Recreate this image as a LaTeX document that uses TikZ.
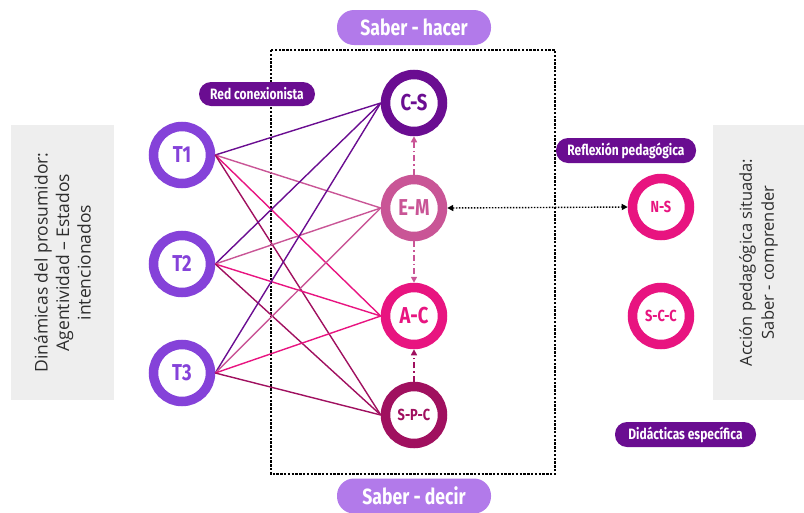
\documentclass[tikz,border=0pt]{standalone}
\usepackage{fontspec}
\setmainfont{Open Sans}
\newfontfamily\labelfont[FakeStretch=0.8]{Fira Sans}
\usepackage{xcolor}
\usetikzlibrary{arrows.meta}

\definecolor{tviolet}{RGB}{133,66,217}
\definecolor{cspurple}{RGB}{106,13,145}
\definecolor{empink}{RGB}{201,85,150}
\definecolor{acmagenta}{RGB}{232,20,128}
\definecolor{spcwine}{RGB}{160,16,95}
\definecolor{pilllight}{RGB}{178,122,234}
\definecolor{boxgray}{RGB}{238,238,238}
\definecolor{boxtext}{RGB}{45,45,45}

\begin{document}
\begin{tikzpicture}[x=1pt, y=-1pt,
  ring/.style={circle, draw=#1, text=#1, fill=white, line width=9.5pt,
    minimum size=57pt, inner sep=0pt, font=\labelfont\bfseries\fontsize{23}{23}\selectfont},
  smallring/.style={ring=#1, font=\labelfont\bfseries\fontsize{16}{16}\selectfont},
  pill/.style={fill=#1, text=white, rounded corners=12pt, inner sep=0pt,
    font=\labelfont\bfseries\fontsize{15}{15}\selectfont},
  bigpill/.style={pill=pilllight, rounded corners=17pt, minimum width=154pt,
    minimum height=35pt, font=\labelfont\bfseries\fontsize{22}{22}\selectfont},
  graybox/.style={rotate=90, fill=boxgray, text=boxtext, align=center, inner sep=0pt},
  edge/.style={line width=1.4pt},
  dasharrow/.style={line width=1.5pt, dash pattern=on 6pt off 3pt on 1.5pt off 3pt,
    -{Triangle[length=6pt, width=6pt]}},
  dotarrow/.style={line width=1.4pt, dash pattern=on 1.4pt off 1.6pt,
    {Triangle[length=6pt, width=6pt]}-{Triangle[length=6pt, width=6pt]}}]
  \useasboundingbox (0,0) rectangle (804,512);

  % side boxes
  \node[graybox, minimum width=275pt, minimum height=103pt,
    font=\fontsize{17.5}{21.5}\selectfont] (prosumer) at (62.5,262.5)
    {Dinámicas del prosumidor:\\Agentividad – Estados\\intencionados};
  \node[graybox, minimum width=275pt, minimum height=91pt,
    font=\fontsize{16.5}{22}\selectfont] (situated) at (758.5,262.5)
    {Acción pedagógica situada:\\Saber - comprender};

  % frame
  \draw[line width=2.4pt, dash pattern=on 2.4pt off 1.4pt] (271,50) rectangle (555,474);

  % labels
  \node[bigpill] (hacer) at (414,27.5) {Saber - hacer};
  \node[bigpill] (decir) at (414,496) {Saber - decir};
  \node[pill=cspurple, minimum width=116pt, minimum height=24pt] (red) at (257,94) {Red conexionista};
  \node[pill=cspurple, minimum width=140pt, minimum height=25pt] (reflex) at (626,150.5) {Reflexión pedagógica};
  \node[pill=cspurple, minimum width=141pt, minimum height=25pt] (didac) at (685.5,434.5) {Didácticas específica};

  % nodes
  \node[ring=tviolet] (T1) at (182,155) {T1};
  \node[ring=tviolet] (T2) at (182,264) {T2};
  \node[ring=tviolet] (T3) at (182,373) {T3};

  \node[ring=cspurple] (CS) at (414,103) {C-S};
  \node[ring=empink] (EM) at (414,208) {E-M};
  \node[ring=acmagenta] (AC) at (414,316) {A-C};
  \node[smallring=spcwine] (SPC) at (414,415) {S-P-C};

  \node[smallring=acmagenta] (NS) at (661,207) {N-S};
  \node[smallring=acmagenta] (SCC) at (661,316) {S-C-C};

  % connections
  \draw[edge, cspurple] (T1.east) -- (CS.west);
  \draw[edge, empink] (T1.east) -- (EM.west);
  \draw[edge, acmagenta] (T1.east) -- (AC.west);
  \draw[edge, spcwine] (T1.east) -- (SPC.west);
  \draw[edge, cspurple] (T2.east) -- (CS.west);
  \draw[edge, empink] (T2.east) -- (EM.west);
  \draw[edge, acmagenta] (T2.east) -- (AC.west);
  \draw[edge, spcwine] (T2.east) -- (SPC.west);
  \draw[edge, cspurple] (T3.east) -- (CS.west);
  \draw[edge, empink] (T3.east) -- (EM.west);
  \draw[edge, acmagenta] (T3.east) -- (AC.west);
  \draw[edge, spcwine] (T3.east) -- (SPC.west);

  \draw[dasharrow, empink] (EM.north) -- (CS.south);
  \draw[dasharrow, empink] (EM.south) -- (AC.north);
  \draw[dasharrow, spcwine] (SPC.north) -- (AC.south);
  \draw[dotarrow] (EM.east) -- (NS.west);
\end{tikzpicture}
\end{document}
